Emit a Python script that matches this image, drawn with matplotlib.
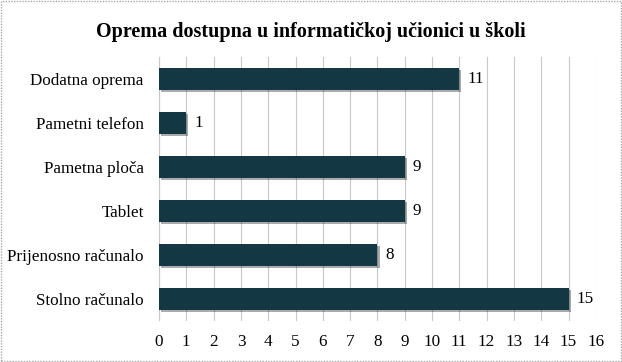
import matplotlib.pyplot as plt
from matplotlib.patches import Rectangle
import matplotlib.patheffects as pe

categories = ["Stolno računalo", "Prijenosno računalo", "Tablet",
              "Pametna ploča", "Pametni telefon", "Dodatna oprema"]
values = [15, 8, 9, 9, 1, 11]
title = "Oprema dostupna u informatičkoj učionici u školi"

plt.rcParams['font.family'] = ['Liberation Serif', 'DejaVu Serif']

fig = plt.figure(figsize=(6.22, 3.62), dpi=100)
ax = fig.add_axes([0.2556, 0.113, 0.7024, 0.7295])

bars = ax.barh(range(len(categories)), values, height=0.5, color="#143843",
               zorder=3)
for b in bars:
    b.set_path_effects([pe.SimplePatchShadow(offset=(1.5, -1.5), alpha=0.35),
                        pe.Normal()])

for i, v in enumerate(values):
    ax.text(v + 0.3, i, str(v), va="center", ha="left", fontsize=12.3)

ax.set_xlim(0, 16)
ax.set_ylim(-0.5, len(categories) - 0.5)
ax.set_xticks(range(0, 17))
ax.set_yticks(range(len(categories)))
ax.set_yticklabels(categories)
ax.tick_params(axis="both", length=0, labelsize=12.3)
ax.tick_params(axis="x", pad=9)
ax.tick_params(axis="y", pad=11)
ax.grid(axis="x", color="#C8C8C8", linewidth=0.8, zorder=0)
for s in ax.spines.values():
    s.set_visible(False)
ax.axvline(0, color="#C8C8C8", linewidth=0.8, zorder=1)

fig.suptitle(title, fontsize=14.5, fontweight="bold", y=0.94)

fig.patches.append(Rectangle((0.002, 0.003), 0.996, 0.994, transform=fig.transFigure,
                             fill=False, edgecolor="#A8A8A8", linewidth=1,
                             linestyle=(0, (1, 1))))

fig.savefig("out.png", dpi=100)
